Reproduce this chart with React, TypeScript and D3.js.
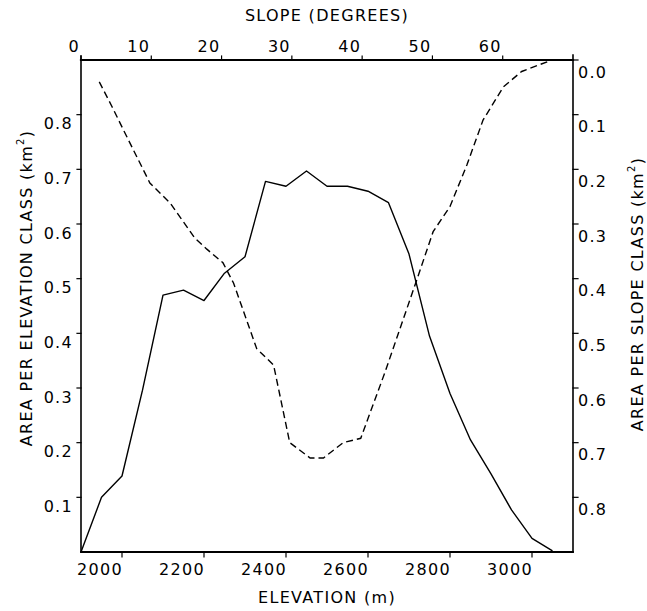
import React from "react";
import * as d3 from "d3";

const elevation = [1900, 1950, 2000, 2050, 2100, 2150, 2200, 2250, 2300, 2350, 2400, 2450, 2500, 2550, 2600, 2650, 2700, 2750, 2800, 2850, 2900, 2950, 3000, 3050];
const elevArea = [0, 0.10, 0.139, 0.296, 0.47, 0.479, 0.46, 0.51, 0.54, 0.678, 0.669, 0.697, 0.669, 0.669, 0.66, 0.639, 0.545, 0.395, 0.29, 0.205, 0.143, 0.077, 0.025, 0.002];

const slopeDeg = [2.6, 4.4, 6.0, 9.8, 12.7, 16.2, 17.9, 20.2, 21.7, 25.0, 27.4, 29.7, 32.6, 34.5, 37.3, 39.8, 43.2, 47.7, 50.1, 52.5, 54.9, 57.2, 60.1, 62.7, 67.0];
const slopeArea = [0.040, 0.085, 0.127, 0.225, 0.262, 0.326, 0.346, 0.371, 0.408, 0.528, 0.558, 0.700, 0.728, 0.728, 0.700, 0.692, 0.573, 0.405, 0.314, 0.268, 0.192, 0.110, 0.049, 0.021, 0.0];

const elevTicks = [2000, 2200, 2400, 2600, 2800, 3000];
const slopeTicks = [0, 10, 20, 30, 40, 50, 60];
const leftTicks = [0.1, 0.2, 0.3, 0.4, 0.5, 0.6, 0.7, 0.8];
const rightTicks = [0.0, 0.1, 0.2, 0.3, 0.4, 0.5, 0.6, 0.7, 0.8];

const L = 81, R = 573, T = 60, B = 552;
const FONT = "'DejaVu Sans', sans-serif";

export default function App() {
  const x = d3.scaleLinear().domain([1900, 3100]).range([L, R]);
  const xTop = d3.scaleLinear().domain([0, 70]).range([L, R]);
  const yL = d3.scaleLinear().domain([0, 0.9]).range([B, T]);
  const yR = d3.scaleLinear().domain([0, 0.9]).range([T, B]);

  const elevLine = d3.line<number>().x((_, i) => x(elevation[i])).y((d) => yL(d))(elevArea) || "";
  const slopeLine = d3.line<number>().x((_, i) => xTop(slopeDeg[i])).y((d) => yR(d))(slopeArea) || "";

  const fs = 16;
  const ls = 1.3;
  const cx = (L + R) / 2;
  return (
    <svg width={647} height={611} style={{ display: "block", position: "absolute", left: 0, top: 0 }}>
      <rect width={647} height={611} fill="#fff" />
      <g stroke="#000" fill="none" strokeLinecap="square">
        <line x1={L} y1={T} x2={R} y2={T} strokeWidth={2.2} />
        <line x1={L} y1={B} x2={R} y2={B} strokeWidth={1.8} />
        <line x1={L} y1={T - 4} x2={L} y2={B} strokeWidth={1.6} />
        <line x1={R} y1={T - 5} x2={R} y2={B} strokeWidth={1.6} />
        {leftTicks.map((t) => (
          <line key={"lt" + t} x1={L - 4} x2={L} y1={yL(t)} y2={yL(t)} strokeWidth={1.2} />
        ))}
        {rightTicks.map((t) => (
          <line key={"rt" + t} x1={R} x2={R + 5} y1={yR(t)} y2={yR(t)} strokeWidth={1.2} />
        ))}
        {slopeTicks.map((t) => (
          <line key={"tt" + t} x1={xTop(t)} x2={xTop(t)} y1={T - 4} y2={T} strokeWidth={1.2} />
        ))}
        {elevTicks.map((t) => (
          <line key={"bt" + t} x1={x(t)} x2={x(t)} y1={B} y2={B + 5} strokeWidth={1.2} />
        ))}
        <path d={elevLine} strokeWidth={1.4} strokeLinejoin="round" strokeLinecap="butt" />
        <path d={slopeLine} strokeWidth={1.4} strokeDasharray="7,4" strokeLinecap="butt" />
      </g>
      <g fontFamily={FONT} fontSize={fs} fill="#000" letterSpacing={ls}>
        {leftTicks.map((t) => (
          <text key={"ll" + t} x={L - 8} y={yL(t) + 10} textAnchor="end" dominantBaseline="middle">{t.toFixed(1)}</text>
        ))}
        {rightTicks.map((t) => (
          <text key={"rl" + t} x={R + 5} y={yR(t) + 13} textAnchor="start" dominantBaseline="middle">{t.toFixed(1)}</text>
        ))}
        {slopeTicks.map((t) => (
          <text key={"tl" + t} x={xTop(t) - 1} y={47} textAnchor="end" dominantBaseline="middle">{t}</text>
        ))}
        {elevTicks.map((t) => (
          <text key={"bl" + t} x={x(t) + 1} y={570} textAnchor="end" dominantBaseline="middle">{t}</text>
        ))}
        <text x={cx} y={16} textAnchor="middle" dominantBaseline="middle">SLOPE (DEGREES)</text>
        <text x={cx} y={598} textAnchor="middle" dominantBaseline="middle">ELEVATION (m)</text>
        <text transform={`translate(27,288) rotate(-90)`} textAnchor="middle" dominantBaseline="middle">
          AREA PER ELEVATION CLASS (km<tspan dy={-6} fontSize={10}>2</tspan><tspan dy={6}>)</tspan>
        </text>
        <text transform={`translate(638,294) rotate(-90)`} textAnchor="middle" dominantBaseline="middle">
          AREA PER SLOPE CLASS (km<tspan dy={-6} fontSize={10}>2</tspan><tspan dy={6}>)</tspan>
        </text>
      </g>
    </svg>
  );
}
